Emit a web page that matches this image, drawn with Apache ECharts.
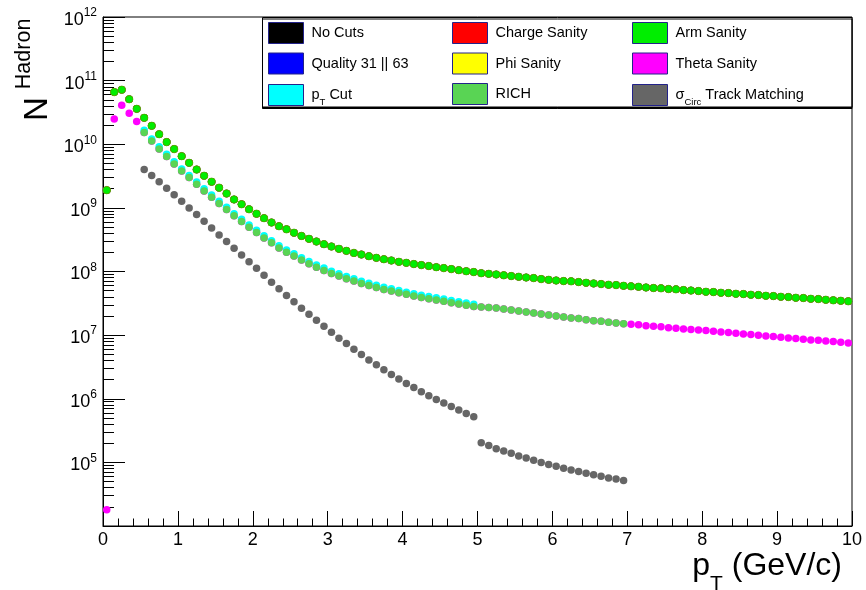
<!DOCTYPE html>
<html>
<head>
<meta charset="utf-8">
<script src="https://cdn.jsdelivr.net/npm/echarts@6/dist/echarts.min.js"></script>
<style>html,body{margin:0;padding:0;background:#fff}#chart{width:866px;height:590px}</style>
</head>
<body>
<div id="chart"></div>
<script>
const FONT = '"Liberation Sans", Arial, Helvetica, sans-serif';

// pT bin centres (GeV/c)
const ptCenters = [
  0.05,0.15,0.25,0.35,0.45,0.55,0.65,0.75,0.85,0.95,
  1.05,1.15,1.25,1.35,1.45,1.55,1.65,1.75,1.85,1.95,
  2.05,2.15,2.25,2.35,2.45,2.55,2.65,2.75,2.85,2.95,
  3.05,3.15,3.25,3.35,3.45,3.55,3.65,3.75,3.85,3.95,
  4.05,4.15,4.25,4.35,4.45,4.55,4.65,4.75,4.85,4.95,
  5.05,5.15,5.25,5.35,5.45,5.55,5.65,5.75,5.85,5.95,
  6.05,6.15,6.25,6.35,6.45,6.55,6.65,6.75,6.85,6.95,
  7.05,7.15,7.25,7.35,7.45,7.55,7.65,7.75,7.85,7.95,
  8.05,8.15,8.25,8.35,8.45,8.55,8.65,8.75,8.85,8.95,
  9.05,9.15,9.25,9.35,9.45,9.55,9.65,9.75,9.85,9.95
];

// Arm Sanity (0.05 .. 9.95); No Cuts, Quality, Charge and Phi Sanity coincide with it (hidden underneath)
const armSanity = [
  1.9e9,6.6e10,7.2e10,5.1e10,3.6e10,2.6e10,1.95e10,1.44e10,1.08e10,8.4e9,
  6.5e9,5.1e9,4.0e9,3.2e9,2.58e9,2.08e9,1.68e9,1.36e9,1.14e9,9.5e8,
  8.1e8,6.9e8,5.9e8,5.15e8,4.6e8,4.07e8,3.63e8,3.26e8,2.96e8,2.69e8,
  2.47e8,2.27e8,2.11e8,1.96e8,1.85e8,1.74e8,1.64e8,1.56e8,1.49e8,1.42e8,
  1.37e8,1.31e8,1.26e8,1.22e8,1.17e8,1.13e8,1.09e8,1.05e8,1.01e8,9.8e7,
  9.4e7,9.2e7,9.0e7,8.7e7,8.48e7,8.27e7,8.07e7,7.88e7,7.6e7,7.41e7,
  7.24e7,7.07e7,7.0e7,6.82e7,6.66e7,6.5e7,6.35e7,6.2e7,6.12e7,5.97e7,
  5.84e7,5.76e7,5.62e7,5.5e7,5.43e7,5.3e7,5.24e7,5.1e7,5.02e7,4.93e7,
  4.81e7,4.75e7,4.64e7,4.58e7,4.47e7,4.42e7,4.32e7,4.27e7,4.16e7,4.11e7,
  4.01e7,3.97e7,3.87e7,3.83e7,3.73e7,3.69e7,3.6e7,3.52e7,3.47e7,3.4e7
];

// Theta Sanity: first bins (0.05 .. 0.45) and last bins (7.05 .. 9.95); in between it lies under RICH
const thetaLow = [1.8e4,2.5e10,4.1e10,3.07e10,2.27e10];
const thetaHigh = [
  1.48e7,1.45e7,1.41e7,1.38e7,1.35e7,1.31e7,1.28e7,1.25e7,1.23e7,1.2e7,
  1.18e7,1.15e7,1.12e7,1.1e7,1.07e7,1.045e7,1.02e7,9.95e6,9.7e6,9.48e6,
  9.26e6,9.04e6,8.82e6,8.62e6,8.42e6,8.32e6,8.12e6,7.91e6,7.74e6,7.55e6
];

// pT Cut (0.55 .. 4.95)
const ptCut = [
  1.66e10,1.21e10,9.1e9,6.95e9,5.3e9,
  4.1e9,3.23e9,2.54e9,1.99e9,1.59e9,1.27e9,1.02e9,8.1e8,6.6e8,5.4e8,
  4.45e8,3.65e8,3.05e8,2.55e8,2.18e8,1.9e8,1.65e8,1.43e8,1.27e8,1.13e8,
  1.01e8,9.2e7,8.35e7,7.7e7,7.05e7,6.55e7,6.07e7,5.64e7,5.34e7,5.03e7,
  4.74e7,4.46e7,4.25e7,4.05e7,3.86e7,3.69e7,3.5e7,3.34e7,3.19e7,3.06e7
];

// RICH (0.55 .. 6.95)
const richCut = [
  1.53e10,1.12e10,8.4e9,6.4e9,4.9e9,
  3.8e9,2.99e9,2.35e9,1.84e9,1.47e9,1.17e9,9.4e8,7.5e8,6.1e8,4.97e8,
  4.1e8,3.37e8,2.82e8,2.35e8,2.01e8,1.75e8,1.52e8,1.32e8,1.17e8,1.04e8,
  9.3e7,8.5e7,7.7e7,7.1e7,6.5e7,6.05e7,5.6e7,5.2e7,4.93e7,4.64e7,
  4.37e7,4.11e7,3.92e7,3.73e7,3.56e7,3.4e7,3.23e7,3.08e7,2.94e7,2.82e7,
  2.77e7,2.72e7,2.67e7,2.57e7,2.48e7,2.4e7,2.31e7,2.23e7,2.15e7,2.07e7,
  2.0e7,1.93e7,1.86e7,1.82e7,1.75e7,1.69e7,1.65e7,1.59e7,1.55e7,1.51e7
];

// sigma_Circ Track Matching (0.55 .. 6.95)
const sigmaCirc = [
  4.0e9,3.24e9,2.58e9,2.03e9,1.61e9,
  1.27e9,1.0e9,7.86e8,6.17e8,4.84e8,3.76e8,2.96e8,2.33e8,1.81e8,1.42e8,
  1.12e8,8.7e7,6.8e7,5.36e7,4.2e7,3.35e7,2.64e7,2.12e7,1.71e7,1.38e7,
  1.11e7,8.9e6,7.4e6,6.0e6,4.95e6,4.08e6,3.41e6,2.85e6,2.4e6,2.04e6,
  1.74e6,1.5e6,1.29e6,1.11e6,9.75e5,8.55e5,7.57e5,6.65e5,5.89e5,5.2e5,
  2.04e5,1.84e5,1.64e5,1.51e5,1.39e5,1.26e5,1.17e5,1.08e5,1.0e5,9.25e4,
  8.7e4,8.1e4,7.6e4,7.2e4,6.75e4,6.4e4,6.05e4,5.7e4,5.5e4,5.2e4
];

const xTicks = [0,1,2,3,4,5,6,7,8,9,10];
const yRange = [1e4, 1e12];

// legend columns (row-wise reading: No Cuts, Charge Sanity, Arm Sanity, ...)
const legendCol1 = ['No Cuts', 'Quality 31 || 63', 'pT Cut'];
const legendCol2 = ['Charge Sanity', 'Phi Sanity', 'RICH'];
const legendCol3 = ['Arm Sanity', 'Theta Sanity', 'σCirc Track Matching'];

const thetaSanity = thetaLow.concat(richCut, thetaHigh);
const startAt = 5; // index of 0.55 in ptCenters
function pairs(vals, start) { return vals.map((v, i) => [ptCenters[start + i], v]); }

const seriesDefs = [
  {name: 'No Cuts', color: '#000000', data: pairs(armSanity, 0)},
  {name: 'Quality 31 || 63', color: '#0000ff', data: pairs(armSanity, 0)},
  {name: 'Charge Sanity', color: '#ff0000', data: pairs(armSanity, 0)},
  {name: 'Phi Sanity', color: '#ffff00', data: pairs(armSanity, 0)},
  {name: 'Arm Sanity', color: '#00ee00', data: pairs(armSanity, 0), border: '#4f8f00'},
  {name: 'Theta Sanity', color: '#ff00ff', data: pairs(thetaSanity, 0)},
  {name: 'pT Cut', color: '#00ffff', data: pairs(ptCut, startAt)},
  {name: 'RICH', color: '#59d454', data: pairs(richCut, startAt)},
  {name: 'σCirc Track Matching', color: '#666666', data: pairs(sigmaCirc, startAt)}
];

function legendCol(names, left) {
  return {
    data: names, orient: 'vertical', left: left, top: 22, padding: 0,
    itemGap: 8.5, itemWidth: 35, itemHeight: 21, icon: 'rect', selectedMode: false,
    itemStyle: {borderColor: '#23238a', borderWidth: 1},
    formatter: function (name) {
      if (name === 'pT Cut') return '{n|p}{s|T}{n| Cut}';
      if (name === 'σCirc Track Matching') return '{n|σ}{s|Circ}{n| Track Matching}';
      return '{n|' + name + '}';
    },
    textStyle: {
      color: '#000', fontSize: 14.5, fontFamily: FONT, padding: [0, 0, 0, 3],
      rich: {
        n: {fontSize: 14.5, fontFamily: FONT, color: '#000', lineHeight: 16},
        s: {fontSize: 9.5, fontFamily: FONT, color: '#000', lineHeight: 9, padding: [14, 0, 0, 0]}
      }
    }
  };
}

const chart = echarts.init(document.getElementById('chart'), null, {renderer: 'canvas'});
chart.setOption({
  animation: false,
  backgroundColor: '#ffffff',
  textStyle: {fontFamily: FONT},
  grid: {left: 103, right: 14, top: 17, bottom: 64, show: true, borderColor: '#000', borderWidth: 1, containLabel: false, outerBoundsMode: 'none'},
  xAxis: {
    type: 'value', min: xTicks[0], max: xTicks[xTicks.length - 1], interval: 1,
    axisLine: {show: true, lineStyle: {color: '#000', width: 1}},
    axisTick: {show: true, inside: true, length: 15, lineStyle: {color: '#000', width: 1}},
    minorTick: {show: true, splitNumber: 5, length: 7.5, lineStyle: {color: '#000', width: 1}},
    splitLine: {show: false},
    axisLabel: {color: '#000', fontSize: 18, fontFamily: FONT, margin: 5}
  },
  yAxis: {
    type: 'log', logBase: 10, min: yRange[0], max: yRange[1], splitNumber: 8,
    axisLine: {show: true, lineStyle: {color: '#000', width: 1}},
    axisTick: {show: true, inside: true, length: 22, lineStyle: {color: '#000', width: 1}},
    minorTick: {show: true, splitNumber: 9, length: 11, lineStyle: {color: '#000', width: 1}},
    splitLine: {show: false},
    axisLabel: {
      margin: 6, color: '#000',
      formatter: function (v) {
        const e = Math.round(Math.log10(v));
        if (Math.abs(Math.log10(v) - e) > 1e-6 || e < 5) return '';
        return '{b|10}{s|' + e + '}';
      },
      rich: {
        b: {fontSize: 18, fontFamily: FONT, color: '#000', lineHeight: 20, padding: [6, 0, 0, 0]},
        s: {fontSize: 12, fontFamily: FONT, color: '#000', lineHeight: 12, padding: [0, 0, 8, 0]}
      }
    }
  },
  legend: [legendCol(legendCol1, 268), legendCol(legendCol2, 452), legendCol(legendCol3, 632)],
  graphic: [
    {
      type: 'rect', z: 3, silent: true,
      shape: {x: 262.5, y: 17.5, width: 589.5, height: 89.5},
      style: {fill: '#fff', stroke: '#000', lineWidth: 1, shadowColor: '#000', shadowBlur: 0, shadowOffsetX: 0, shadowOffsetY: 1.5}
    },
    {
      type: 'text', x: 842, y: 566, silent: true,
      style: {
        text: '{p|p}{t|T}{p| (GeV/c)}', align: 'right', verticalAlign: 'middle',
        rich: {
          p: {fontSize: 32, fontFamily: FONT, fill: '#000', color: '#000', lineHeight: 32},
          t: {fontSize: 21, fontFamily: FONT, fill: '#000', color: '#000', lineHeight: 21, padding: [36, 0, 0, 0]}
        }
      }
    },
    {
      type: 'text', x: 54, y: 121, rotation: Math.PI / 2, silent: true,
      style: {
        text: '{n|N}{h|Hadron}', align: 'left', verticalAlign: 'bottom',
        rich: {
          n: {fontSize: 33, fontFamily: FONT, fill: '#000', color: '#000', lineHeight: 33},
          h: {fontSize: 21.5, fontFamily: FONT, fill: '#000', color: '#000', lineHeight: 22, padding: [0, 0, 27, 8]}
        }
      }
    }
  ],
  series: seriesDefs.map(d => ({
    name: d.name, type: 'scatter', symbol: 'circle', symbolSize: 7.5,
    data: d.data,
    itemStyle: {color: d.color, opacity: 1, borderColor: d.border || d.color, borderWidth: d.border ? 0.6 : 0},
    emphasis: {disabled: true},
    silent: true
  }))
});
</script>
</body>
</html>
